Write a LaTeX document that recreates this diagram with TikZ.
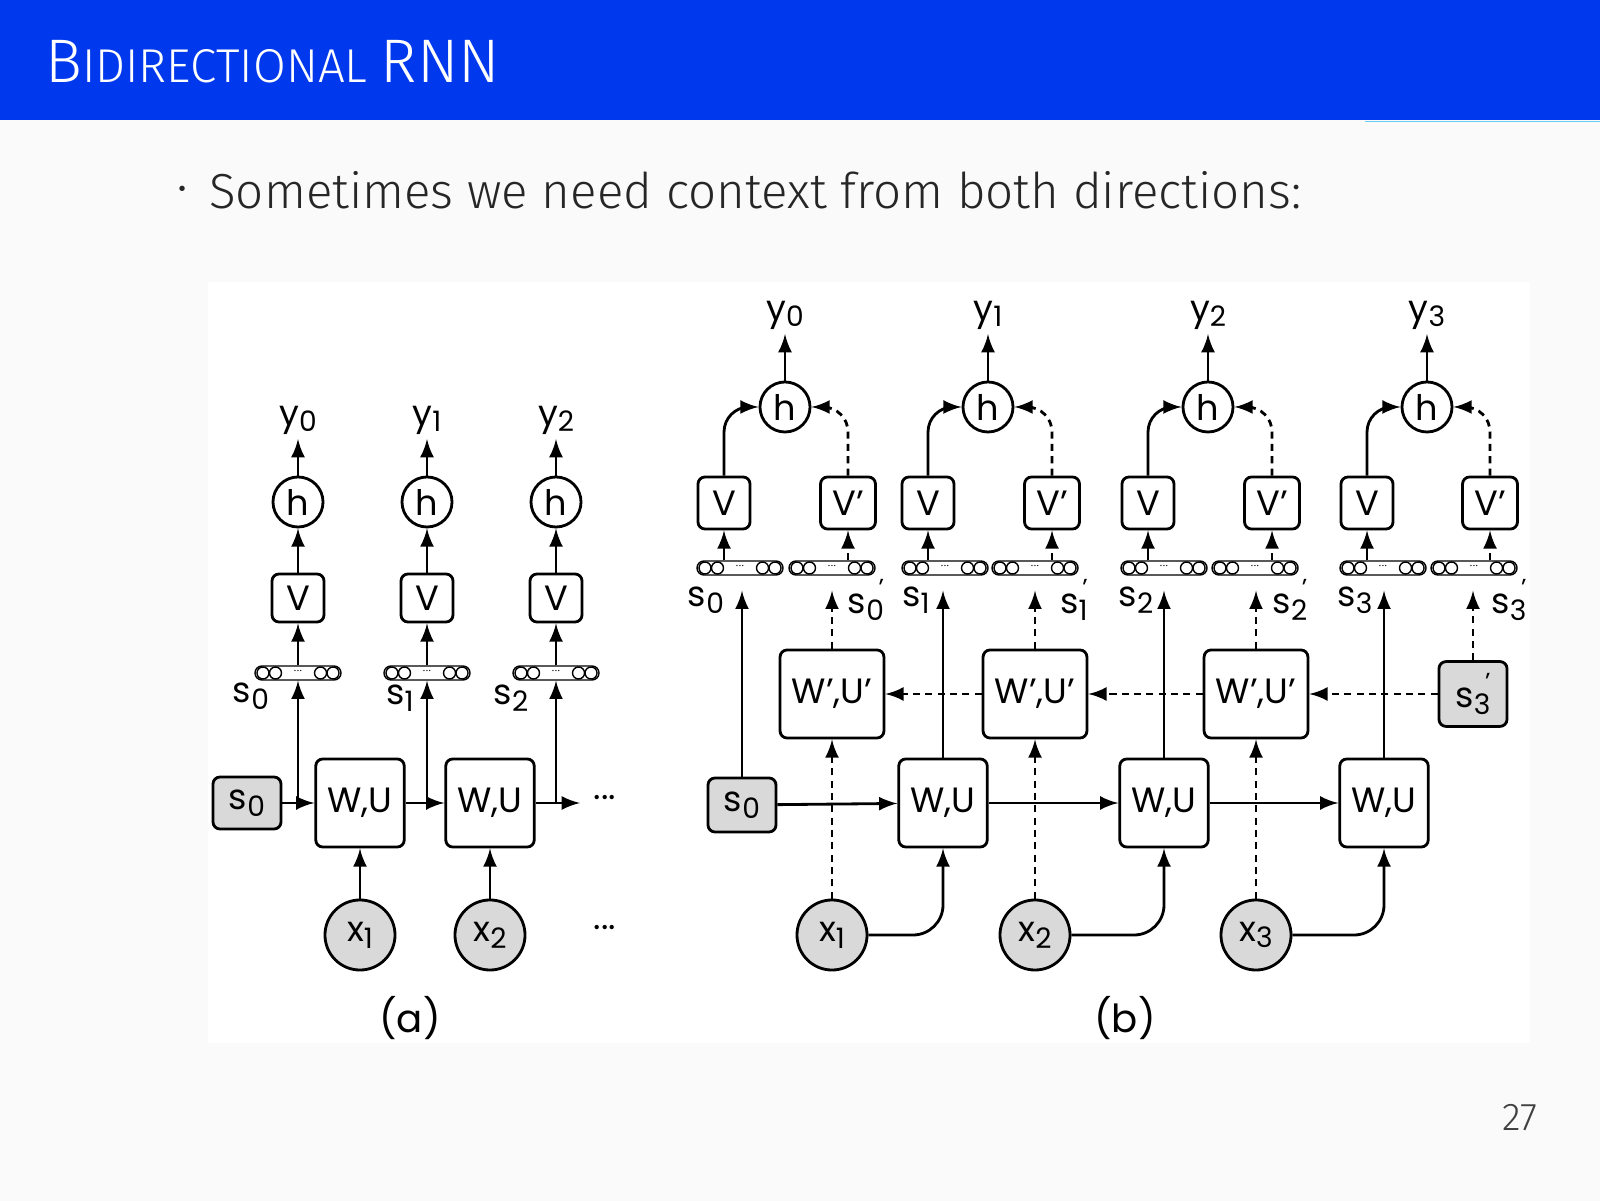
\documentclass[tikz,border=0pt]{standalone}
\usepackage{fontspec}
\setmainfont{Fira Sans Light}
\newfontfamily\diafont{Poppins}
\usetikzlibrary{arrows,positioning,shapes,calc}
\definecolor{hdrblue}{RGB}{0,56,238}
\definecolor{boxgray}{RGB}{217,217,217}
\newcommand{\dsub}[2]{#1\raisebox{-0.35ex}{\footnotesize #2}}
\newcommand{\dsubp}[2]{#1\raisebox{-0.35ex}{\footnotesize #2}\llap{\raisebox{0.9ex}{\scriptsize ’}}}
% state vector: rounded bar with four small cells
\newcommand{\svec}[2]{%
  \node[vec] (#1) at (#2) {};
  \foreach \dx in {-0.35,-0.225,0.225,0.35}
    \draw[thin] ([xshift=\dx cm]#1.center) circle (0.06cm);
  \node[font=\fontsize{4}{4}\selectfont, inner sep=0pt] at ([yshift=0.02cm]#1.center) {...};
}
\tikzset{
  blk/.style={draw, thick, rounded corners=2pt, fill=white, font=\diafont\fontsize{10}{10}\selectfont},
  wu/.style={blk, minimum width=0.88cm, minimum height=0.88cm},
  vb/.style={blk, minimum width=0.52cm, minimum height=0.48cm},
  ini/.style={blk, fill=boxgray, minimum width=0.68cm, minimum height=0.52cm},
  hc/.style={draw, thick, circle, fill=white, minimum size=0.5cm, inner sep=0pt, font=\diafont\fontsize{10}{10}\selectfont},
  xc/.style={hc, fill=boxgray, minimum size=0.7cm},
  lbl/.style={font=\diafont\fontsize{10}{10}\selectfont, inner sep=1pt},
  vec/.style={draw, thin, rounded corners=0.07cm, minimum width=0.86cm, minimum height=0.14cm, inner sep=0pt},
  dot/.style={dash pattern=on 2pt off 1.5pt},
}
\begin{document}
\begin{tikzpicture}[x=0.01cm, y=-0.01cm, >=latex, thick]
    \useasboundingbox (0,0) rectangle (1600,1201);
    % Slide
    \fill[black!2] (0,0) rectangle (1600,1201);
    \fill[hdrblue] (0,0) rectangle (1600,120);
    \draw[cyan!60, very thin] (1365,121) -- (1600,121);
    \node[anchor=west, white, inner sep=0pt] (title) at (44,62)
      {\fontsize{17.5}{18}\selectfont B\fontsize{13.5}{14}\selectfont IDIRECTIONAL \fontsize{17.5}{18}\selectfont RNN};
    \node[anchor=west, inner sep=0pt, text=black!85] (bullet) at (174,190) {\fontsize{14}{14}\selectfont$\cdot$};
    \node[anchor=west, inner sep=0pt, text=black!85] (intro) at (208,190)
      {\fontsize{14}{14}\selectfont Sometimes we need context from both directions:};
    \node[text=black!75, font=\fontsize{11}{11}\selectfont] (page) at (1520,1118) {27};
    \fill[white] (208,282) rectangle (1530,1043);

    % (a) nodes
    \node[ini] (a0) at (247,803) {\dsub{s}{0}};
    \node[wu] (aw1) at (360,803) {W,U};
    \node[wu] (aw2) at (490,803) {W,U};
    \node[xc] (ax1) at (360,935) {\dsub{x}{1}};
    \node[xc] (ax2) at (490,935) {\dsub{x}{2}};
    \foreach \i/\px in {0/298,1/427,2/556} {
      \svec{as\i}{\px,673}
      \node[vb] (av\i) at (\px,598) {V};
      \node[hc] (ah\i) at (\px,502) {h};
      \node[lbl] (ay\i) at (\px,420) {\dsub{y}{\i}};
      \draw[->] (as\i) -- (av\i);
      \draw[->] (av\i) -- (ah\i);
      \draw[->] (ah\i) -- (ay\i);
    }
    \node[lbl] (asl0) at (251,696) {\dsub{s}{0}};
    \node[lbl] (asl1) at (400,698) {\dsub{s}{1}};
    \node[lbl] (asl2) at (511,698) {\dsub{s}{2}};
    \coordinate (aend) at (580,803);
    \node[lbl] (adots1) at (605,798) {...};
    \node[lbl] (adots2) at (605,928) {...};
    \node[lbl, font=\diafont\fontsize{11}{11}\selectfont] (capa) at (410,1018) {(a)};
    % (a) connectors
    \draw[->] (a0) -- (aw1);
    \draw[->] (aw1) -- (aw2);
    \draw[->] (aw2) -- (aend);
    \draw[->] (as0 |- a0.east) -- (as0);
    \draw[->] (as1 |- aw1.east) -- (as1);
    \draw[->] (as2 |- aw2.east) -- (as2);
    \draw[->] (ax1) -- (aw1);
    \draw[->] (ax2) -- (aw2);

    % (b) nodes
    \node[ini, minimum height=0.54cm] (b0) at (742,805) {\dsub{s}{0}};
    \node[ini] (bp3) at (1473,694) {\dsubp{s}{3}};
    \foreach \i/\px/\pv/\pp/\sv/\sp in {0/785/724/848/740/832, 1/988/928/1052/945/1035,
                                        2/1208/1148/1272/1164/1255, 3/1427/1367/1490/1383/1474} {
      \node[hc] (bh\i) at (\px,407) {h};
      \node[lbl] (by\i) at (\px,315) {\dsub{y}{\i}};
      \node[vb, minimum height=0.52cm] (bv\i) at (\pv,503) {V};
      \node[vb, minimum height=0.52cm] (bvp\i) at (\pp,503) {V’};
      \svec{bs\i}{\sv,568}
      \svec{bsp\i}{\sp,568}
      \draw[->] (bh\i) -- (by\i);
      \draw[->, rounded corners=0.25cm] (bv\i) |- (bh\i);
      \draw[->, dot, rounded corners=0.25cm] (bvp\i) |- (bh\i);
      \draw[->] (bs\i.north -| bv\i) -- (bv\i);
      \draw[->, dot] (bsp\i.north -| bvp\i) -- (bvp\i);
    }
    \node[lbl] (bsl0) at (706,600) {\dsub{s}{0}};
    \node[lbl] (bslp0) at (866,600) {\dsubp{s}{0}};
    \node[lbl] (bsl1) at (916,600) {\dsub{s}{1}};
    \node[lbl] (bslp1) at (1074,600) {\dsubp{s}{1}};
    \node[lbl] (bsl2) at (1136,600) {\dsub{s}{2}};
    \node[lbl] (bslp2) at (1290,600) {\dsubp{s}{2}};
    \node[lbl] (bsl3) at (1355,600) {\dsub{s}{3}};
    \node[lbl] (bslp3) at (1509,600) {\dsubp{s}{3}};
    \foreach \i/\px/\pw in {1/943/832, 2/1164/1035, 3/1384/1256} {
      \node[wu] (bw\i) at (\px,803) {W,U};
      \node[wu] (bwp\i) at (\pw,694) {W’,U’};
      \node[xc] (bx\i) at (\pw,935) {\dsub{x}{\i}};
      \draw[->, dot] (bx\i) -- (bwp\i);
      \draw[->, rounded corners=0.3cm] (bx\i) -| (bw\i);
    }
    \node[lbl, font=\diafont\fontsize{11}{11}\selectfont] (capb) at (1125,1018) {(b)};
    % (b) connectors
    \draw[->] (b0) -- (bw1);
    \draw[->] (bw1) -- (bw2);
    \draw[->] (bw2) -- (bw3);
    \draw[->] (b0) -- ([yshift=-0.15cm]bs0.south -| b0);
    \draw[->] (bw1) -- ([yshift=-0.15cm]bs1.south -| bw1);
    \draw[->] (bw2) -- ([yshift=-0.15cm]bs2.south -| bw2);
    \draw[->] (bw3) -- ([yshift=-0.15cm]bs3.south -| bw3);
    \draw[->, dot] (bwp1) -- ([yshift=-0.15cm]bsp0.south -| bwp1);
    \draw[->, dot] (bwp2) -- ([yshift=-0.15cm]bsp1.south -| bwp2);
    \draw[->, dot] (bwp3) -- ([yshift=-0.15cm]bsp2.south -| bwp3);
    \draw[->, dot] (bp3) -- ([yshift=-0.15cm]bsp3.south -| bp3);
    \draw[->, dot] (bp3) -- (bwp3);
    \draw[->, dot] (bwp3) -- (bwp2);
    \draw[->, dot] (bwp2) -- (bwp1);
\end{tikzpicture}
\end{document}
